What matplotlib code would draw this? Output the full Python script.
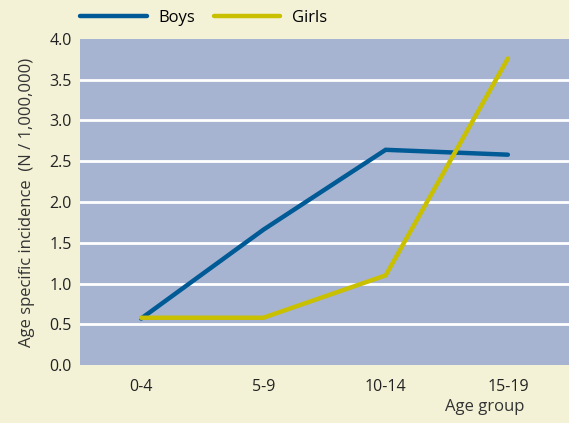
import numpy as np
import matplotlib.pyplot as plt

plt.rcParams['font.family'] = ['Open Sans', 'DejaVu Sans']

groups = ['0-4', '5-9', '10-14', '15-19']
boys = [0.57, 1.66, 2.64, 2.58]
girls = [0.58, 0.58, 1.10, 3.76]

bg = '#f3f2d6'
fig = plt.figure(figsize=(5.69, 4.23), dpi=100, facecolor=bg)
ax = fig.add_axes([0.1406, 0.137, 0.8594, 0.771])
ax.set_facecolor('#a6b4d2')

x = np.arange(len(groups))
ax.plot(x, boys, color='#005a96', lw=3.2, solid_capstyle='round', solid_joinstyle='miter', label='Boys', zorder=3)
ax.plot(x, girls, color='#c8c000', lw=3.2, solid_capstyle='round', solid_joinstyle='miter', label='Girls', zorder=3)

ax.set_xlim(-0.5, 3.5)
ax.set_ylim(0, 4.0)
ax.set_yticks(np.arange(0, 4.01, 0.5))
ax.set_yticklabels(['%.1f' % v for v in np.arange(0, 4.01, 0.5)])
ax.set_xticks(x)
ax.set_xticklabels(groups)
for v in np.arange(0.5, 3.6, 0.5):
    ax.axhline(v, color='white', lw=2, zorder=1)
for s in ax.spines.values():
    s.set_visible(False)
ax.tick_params(length=0, labelsize=11.5, colors='#222222', pad=6)
ax.tick_params(axis='x', pad=10)

ax.set_ylabel('Age specific incidence  (N / 1,000,000)', fontsize=12, color='#333333', labelpad=10)
fig.text(0.922, 0.038, 'Age group', ha='right', va='center', fontsize=12, color='#333333')

ax.legend(loc='lower left', bbox_to_anchor=(-0.01, 1.025), ncol=2, frameon=False,
          fontsize=12, handlelength=4.0, columnspacing=1.1, handletextpad=0.7,
          borderaxespad=0.2, borderpad=0.1)

fig.savefig('out.png', dpi=100, facecolor=bg)
